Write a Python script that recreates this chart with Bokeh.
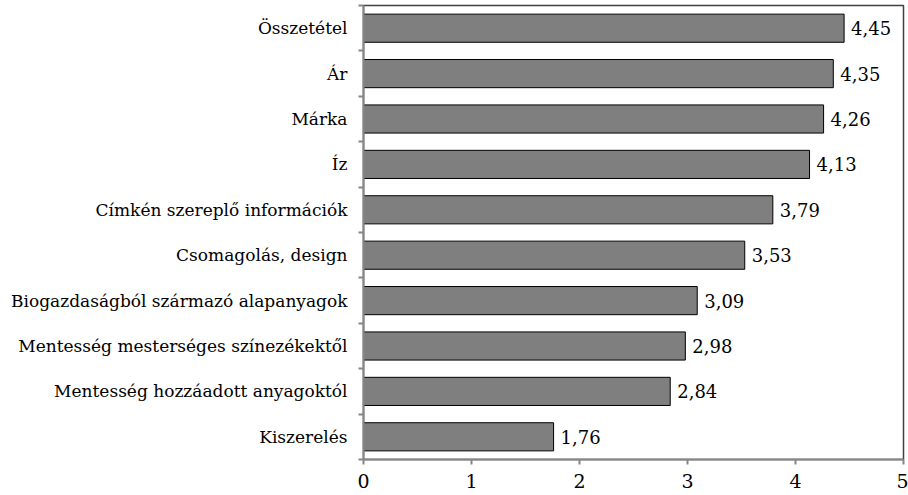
from bokeh.plotting import figure
from bokeh.models import Range1d, LinearAxis, FixedTicker, ColumnDataSource
from bokeh.core.properties import value
from bokeh.embed import file_html
from bokeh.resources import INLINE

categories = ["Összetétel", "Ár", "Márka", "Íz", "Címkén szereplő információk",
              "Csomagolás, design", "Biogazdaságból származó alapanyagok",
              "Mentesség mesterséges színezékektől", "Mentesség hozzáadott anyagoktól",
              "Kiszerelés"]
scores = [4.45, 4.35, 4.26, 4.13, 3.79, 3.53, 3.09, 2.98, 2.84, 1.76]
x_ticks = [0, 1, 2, 3, 4, 5]

FONT = "DejaVu Serif"
n = len(categories)
ypos = [n - i - 0.5 for i in range(n)]  # category slots, first category on top
bounds = list(range(n + 1))
labels = [f"{v:.2f}".replace(".", ",") for v in scores]
src = ColumnDataSource(dict(y=ypos, val=scores, lab=labels))

p = figure(width=908, height=495, output_backend="svg", toolbar_location=None,
           y_range=Range1d(0, n), x_range=Range1d(0, 5),
           y_axis_type=None, x_axis_type=None,
           min_border_left=363, min_border_right=5, min_border_top=5, min_border_bottom=36)

# x axis
xa = LinearAxis(ticker=FixedTicker(ticks=x_ticks))
xa.axis_line_color = "#868686"
xa.axis_line_width = 2
xa.major_tick_line_color = "#868686"
xa.major_tick_line_width = 2
xa.major_tick_out = 5
xa.major_tick_in = 0
xa.minor_tick_line_color = None
xa.major_label_text_font = FONT
xa.major_label_text_font_size = "19px"
xa.major_label_text_color = "black"
xa.major_label_standoff = 9
p.add_layout(xa, "below")

# left axis: labels at slot centres, tick marks at slot boundaries
ya = LinearAxis(ticker=FixedTicker(ticks=ypos, minor_ticks=bounds))
ya.major_label_overrides = {y: c for y, c in zip(ypos, categories)}
ya.axis_line_color = "#868686"
ya.axis_line_width = 2
ya.major_tick_line_color = None
ya.major_tick_out = 5
ya.major_tick_in = 0
ya.minor_tick_line_color = "#868686"
ya.minor_tick_line_width = 2
ya.minor_tick_out = 5
ya.minor_tick_in = 0
ya.major_label_text_font = FONT
ya.major_label_text_font_size = "17px"
ya.major_label_text_color = "black"
ya.major_label_standoff = 11
p.add_layout(ya, "left")

p.xgrid.grid_line_color = "#c0c0c0"
p.xgrid.grid_line_width = 1.5
p.xgrid.ticker = FixedTicker(ticks=x_ticks)
p.ygrid.grid_line_color = None
p.outline_line_color = "#404040"
p.outline_line_width = 1.5

p.hbar(y="y", right="val", left=0, height=0.62, source=src,
       fill_color="#7f7f7f", line_color="black", line_width=1)
p.text(x="val", y="y", text="lab", source=src, x_offset=7,
       text_baseline="middle", text_align="left",
       text_font=value(FONT), text_font_size="18px", text_color="black")

open("out.html", "w").write(file_html(p, INLINE))
